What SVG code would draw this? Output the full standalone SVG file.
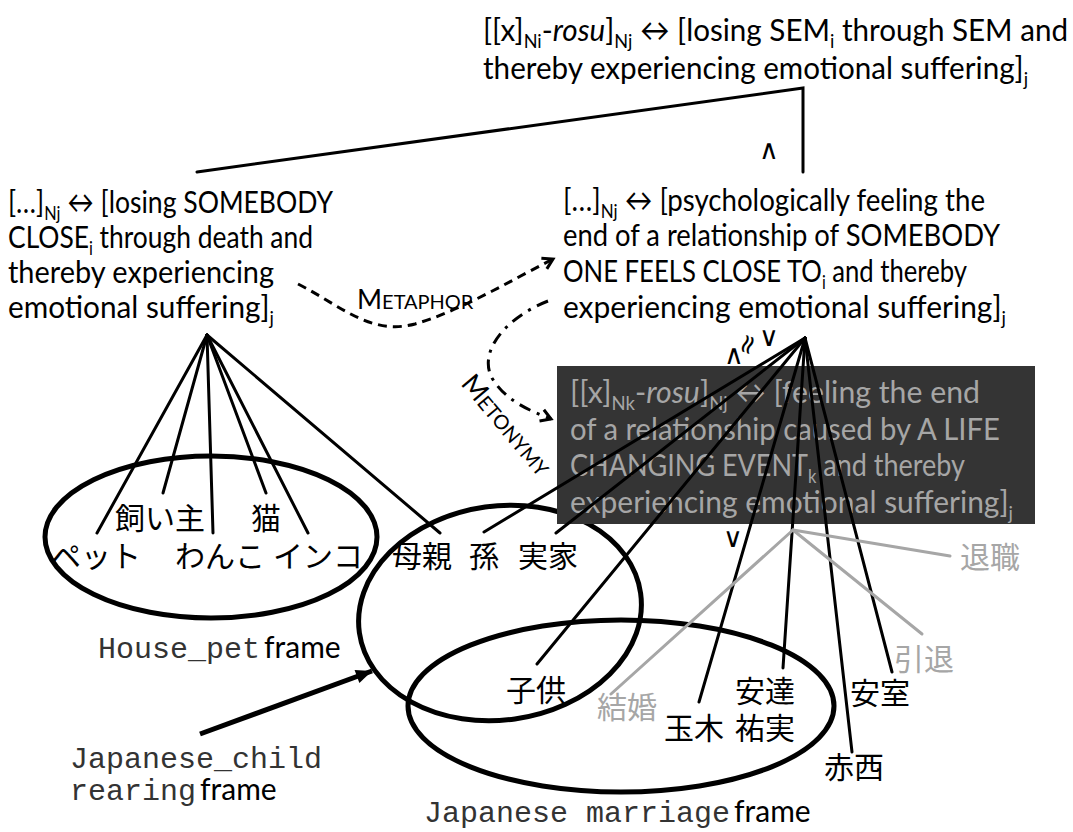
<svg xmlns="http://www.w3.org/2000/svg" width="1073" height="832" viewBox="0 0 1073 832">
  <defs>
    <style>
      .t{font-family:Lato,"Noto Sans",sans-serif;font-size:31px;fill:#000}
      .bx{fill:#a6a6a6}
      .s{font-size:19px}
      .jp{font-family:"Noto Sans CJK JP",sans-serif;font-size:30px;fill:#000;text-anchor:middle}
      .jg{fill:#a6a6a6}
      .mono{font-family:"Liberation Mono",monospace;font-size:30px;fill:#333}
      .fr{font-family:Lato,sans-serif;font-size:30px;fill:#000}
      .sc{font-family:Lato,sans-serif;fill:#000}
      .mk{font-family:"DejaVu Sans",sans-serif;font-size:27px;fill:#000;text-anchor:middle}
      .ln{stroke:#000;stroke-width:3;fill:none;stroke-linecap:round}
      .gl{stroke:#a6a6a6;stroke-width:3;fill:none;stroke-linecap:round}
      .el{fill:none;stroke:#000;stroke-width:5}
    </style>
    <marker id="chev" markerUnits="userSpaceOnUse" markerWidth="16" markerHeight="16" refX="13" refY="8" orient="auto">
      <path d="M3,2 L13,8 L3,14" fill="none" stroke="#000" stroke-width="3"/>
    </marker>
    <marker id="tri" markerUnits="userSpaceOnUse" markerWidth="20" markerHeight="20" refX="18" refY="10" orient="auto">
      <path d="M2,3 L18,10 L2,17 Z" fill="#000"/>
    </marker>
  </defs>

  <!-- frame ellipses -->
  <g id="frame-house-pet">
    <ellipse class="el" cx="211" cy="537" rx="166" ry="81"/>
    <text x="98" y="658"><tspan class="mono">House_pet</tspan><tspan class="fr" dx="4">frame</tspan></text>
  </g>
  <g id="frame-child-rearing">
    <ellipse class="el" cx="500" cy="613" rx="142" ry="107" transform="rotate(-8 500 613)"/>
    <text class="mono" x="70" y="768">Japanese_child</text>
    <text x="70" y="800"><tspan class="mono">rearing</tspan><tspan class="fr" dx="4">frame</tspan></text>
  </g>
  <g id="frame-marriage">
    <ellipse class="el" cx="621" cy="706" rx="213" ry="86"/>
    <text x="424" y="822"><tspan class="mono">Japanese marriage</tspan><tspan class="fr" dx="4">frame</tspan></text>
  </g>

  <!-- schema nodes -->
  <g id="node-top">
    <text class="t" x="483" y="41" textLength="585" lengthAdjust="spacingAndGlyphs">[[x]<tspan class="s" dy="7">Ni</tspan><tspan dy="-7">-</tspan><tspan font-style="italic">rosu</tspan>]<tspan class="s" dy="7">Nj</tspan><tspan dy="-7"> ↔ [losing SEM</tspan><tspan class="s" dy="7">i</tspan><tspan dy="-7"> through SEM and</tspan></text>
    <text class="t" x="483" y="79" textLength="545" lengthAdjust="spacingAndGlyphs">thereby experiencing emotional suffering]<tspan class="s" dy="7">j</tspan></text>
  </g>

  <g id="node-death">
    <text class="t" x="8" y="213" textLength="325" lengthAdjust="spacingAndGlyphs">[…]<tspan class="s" dy="7">Nj</tspan><tspan dy="-7"> ↔ [losing SOMEBODY</tspan></text>
    <text class="t" x="8" y="248" textLength="305" lengthAdjust="spacingAndGlyphs">CLOSE<tspan class="s" dy="7">i</tspan><tspan dy="-7"> through death and</tspan></text>
    <text class="t" x="8" y="283" textLength="266" lengthAdjust="spacingAndGlyphs">thereby experiencing</text>
    <text class="t" x="8" y="318" textLength="266" lengthAdjust="spacingAndGlyphs">emotional suffering]<tspan class="s" dy="7">j</tspan></text>
  </g>

  <g id="node-relationship">
    <text class="t" x="563" y="211" textLength="422" lengthAdjust="spacingAndGlyphs">[…]<tspan class="s" dy="7">Nj</tspan><tspan dy="-7"> ↔ [psychologically feeling the</tspan></text>
    <text class="t" x="563" y="246" textLength="437" lengthAdjust="spacingAndGlyphs">end of a relationship of SOMEBODY</text>
    <text class="t" x="563" y="282" textLength="404" lengthAdjust="spacingAndGlyphs">ONE FEELS CLOSE TO<tspan class="s" dy="7">i</tspan><tspan dy="-7"> and thereby</tspan></text>
    <text class="t" x="563" y="318" textLength="443" lengthAdjust="spacingAndGlyphs">experiencing emotional suffering]<tspan class="s" dy="7">j</tspan></text>
  </g>

  <g id="node-life-event">
    <rect x="557" y="366" width="478" height="158" fill="#343434"/>
    <text class="t bx" x="570" y="403" textLength="410" lengthAdjust="spacingAndGlyphs">[[x]<tspan class="s" dy="7">Nk</tspan><tspan dy="-7">-</tspan><tspan font-style="italic">rosu</tspan>]<tspan class="s" dy="7">Nj</tspan><tspan dy="-7"> ↔ [feeling the end</tspan></text>
    <text class="t bx" x="570" y="440" textLength="430" lengthAdjust="spacingAndGlyphs">of a relationship caused by A LIFE</text>
    <text class="t bx" x="570" y="476" textLength="395" lengthAdjust="spacingAndGlyphs">CHANGING EVENT<tspan class="s" dy="7">k</tspan><tspan dy="-7"> and thereby</tspan></text>
    <text class="t bx" x="570" y="513" textLength="443" lengthAdjust="spacingAndGlyphs">experiencing emotional suffering]<tspan class="s" dy="7">j</tspan></text>
  </g>

  <!-- connectors -->
  <g id="connectors">
    <polyline class="ln" points="197,172 803,88 803,172"/>
    <path d="M298,284 C340,305 370,336 415,324 C460,311 510,281 553,259" fill="none" stroke="#000" stroke-width="3" stroke-dasharray="9 6" marker-end="url(#chev)"/>
    <path d="M548,301 C505,318 478,352 492,378 C505,400 528,410 551,419" fill="none" stroke="#000" stroke-width="3" stroke-dasharray="12 7 3 7" marker-end="url(#chev)"/>
    <line x1="200" y1="734" x2="372" y2="671" stroke="#000" stroke-width="5" marker-end="url(#tri)"/>

    <!-- death schema instances -->
    <line class="ln" x1="207" y1="335" x2="97" y2="533"/>
    <line class="ln" x1="207" y1="335" x2="163" y2="493"/>
    <line class="ln" x1="207" y1="335" x2="213" y2="533"/>
    <line class="ln" x1="207" y1="335" x2="266" y2="493"/>
    <line class="ln" x1="207" y1="335" x2="308" y2="533"/>
    <line class="ln" x1="207" y1="335" x2="440" y2="533"/>

    <!-- relationship schema instances -->
    <line class="ln" x1="805" y1="338" x2="484" y2="532"/>
    <line class="ln" x1="805" y1="338" x2="556" y2="533"/>
    <line class="ln" x1="805" y1="338" x2="537" y2="664"/>
    <line class="ln" x1="805" y1="338" x2="699" y2="702"/>
    <line class="ln" x1="805" y1="338" x2="783" y2="668"/>
    <line class="ln" x1="805" y1="338" x2="852" y2="752"/>
    <line class="ln" x1="805" y1="338" x2="892" y2="672"/>

    <!-- life-event schema instances -->
    <line class="gl" x1="793" y1="530" x2="611" y2="694"/>
    <line class="gl" x1="793" y1="530" x2="950" y2="556"/>
    <line class="gl" x1="793" y1="530" x2="922" y2="634"/>
  </g>

  <!-- link labels and marks -->
  <g id="labels">
    <text class="sc" x="357" y="309"><tspan font-size="27">M</tspan><tspan font-size="20">ETAPHOR</tspan></text>
    <text class="sc" x="460" y="384" transform="rotate(50 460 384)"><tspan font-size="27">M</tspan><tspan font-size="20">ETONYMY</tspan></text>
    <text class="mk" x="769" y="159">∧</text>
    <text class="mk" x="734" y="364">∧</text>
    <text class="mk" x="749" y="352" transform="rotate(-70 749 345)">≈</text>
    <text class="mk" x="769" y="346">∨</text>
    <text class="mk" x="733" y="547">∨</text>
  </g>

  <!-- lexical fillers -->
  <g id="fillers-pet">
    <text class="jp" x="160" y="529">飼い主</text>
    <text class="jp" x="266" y="529">猫</text>
    <text class="jp" x="96" y="567">ペット</text>
    <text class="jp" x="220" y="567">わんこ</text>
    <text class="jp" x="318" y="567">インコ</text>
  </g>
  <g id="fillers-family">
    <text class="jp" x="422" y="567">母親</text>
    <text class="jp" x="484" y="567">孫</text>
    <text class="jp" x="548" y="567">実家</text>
    <text class="jp" x="536" y="701">子供</text>
  </g>
  <g id="fillers-marriage">
    <text class="jp jg" x="627" y="718">結婚</text>
    <text class="jp" x="765" y="702">安達</text>
    <text class="jp" x="694" y="739">玉木</text>
    <text class="jp" x="765" y="739">祐実</text>
    <text class="jp" x="854" y="778">赤西</text>
    <text class="jp" x="880" y="704">安室</text>
    <text class="jp jg" x="924" y="670">引退</text>
    <text class="jp jg" x="990" y="568">退職</text>
  </g>
</svg>
